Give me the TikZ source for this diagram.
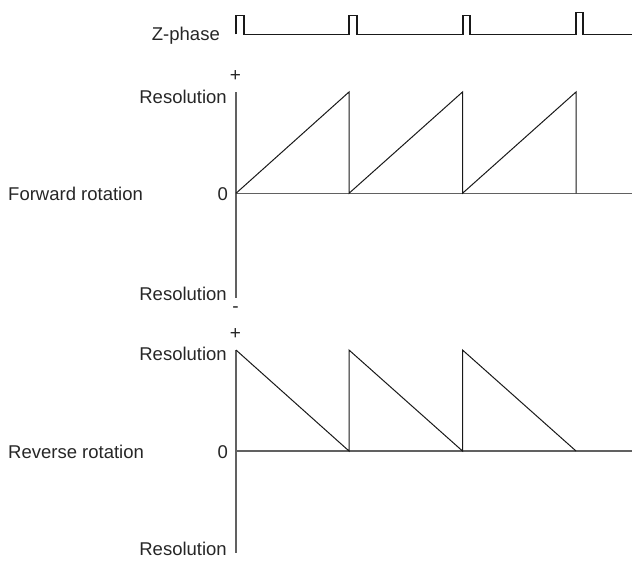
\documentclass[tikz,border=0pt]{standalone}
\usepackage{fontspec}
\setmainfont{Liberation Sans}
\begin{document}
\begin{tikzpicture}[x=1pt,y=-1pt,
  axisline/.style={draw=black!62,line width=1.3pt},
  wave/.style={draw=black!90,line width=1pt,line join=miter},
  lbl/.style={font=\fontsize{18.5}{20}\selectfont,inner sep=0pt,text=black!85},
  sgn/.style={font=\fontsize{19}{20}\selectfont,inner sep=0pt,text=black!85}]
\useasboundingbox (0,0) rectangle (632,563);
% Z-phase
\node[lbl,anchor=east] (zlbl) at (220,36) {Z-phase};
\coordinate (z0) at (236,34.3);
\coordinate (zend) at (632,34.3);
\draw[wave,line width=1.1pt] (z0) -- ++(0,-18.5) -- ++(8,0) -- ++(0,18.5)
  -- (349,34.3) -- ++(0,-18.5) -- ++(8,0) -- ++(0,18.5)
  -- (463,34.3) -- ++(0,-18.5) -- ++(7,0) -- ++(0,18.5)
  -- (576,34.3) -- ++(0,-22) -- ++(7,0) -- ++(0,22) -- (zend);
% Forward rotation
\coordinate (fTop) at (236,92);
\coordinate (fBot) at (236,298);
\coordinate (fO) at (236,193.3);
\coordinate (fEnd) at (632,193.3);
\draw[axisline] (fTop) -- (fBot);
\draw[axisline] (fO) -- (fEnd);
\node[lbl,anchor=west] (fwd) at (8,194) {Forward rotation};
\node[lbl,anchor=east] (f0) at (228,194) {0};
\node[lbl,anchor=east] (fres1) at (227,97) {Resolution};
\node[lbl,anchor=east] (fres2) at (227,294) {Resolution};
\node[sgn] (fplus) at (235.5,76.5) {+};
\node[sgn] (fminus) at (235.5,310) {-};
\coordinate (fa1) at (349,92); \coordinate (fb1) at (349,193.3);
\coordinate (fa2) at (462.5,92); \coordinate (fb2) at (462.5,193.3);
\coordinate (fa3) at (576,92); \coordinate (fb3) at (576,193.3);
\draw[wave] (fO) -- (fa1) -- (fb1) -- (fa2) -- (fb2) -- (fa3) -- (fb3);
% Reverse rotation
\coordinate (rTop) at (236,350);
\coordinate (rBot) at (236,553);
\coordinate (rO) at (236,451);
\coordinate (rEnd) at (632,451);
\draw[axisline] (rTop) -- (rBot);
\draw[axisline] (rO) -- (rEnd);
\node[lbl,anchor=west] (rev) at (8,452) {Reverse rotation};
\node[lbl,anchor=east] (r0) at (228,452) {0};
\node[lbl,anchor=east] (rres1) at (227,354) {Resolution};
\node[lbl,anchor=east] (rres2) at (227,549) {Resolution};
\node[sgn] (rplus) at (235.5,334) {+};
\coordinate (ra1) at (349,451); \coordinate (rb1) at (349,350);
\coordinate (ra2) at (462.5,451); \coordinate (rb2) at (462.5,350);
\coordinate (ra3) at (576,451);
\draw[wave] (rTop) -- (ra1) -- (rb1) -- (ra2) -- (rb2) -- (ra3);
\end{tikzpicture}
\end{document}
